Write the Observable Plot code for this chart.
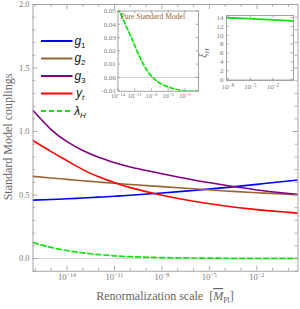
<!DOCTYPE html>
<html><head><meta charset="utf-8">
<script src="https://cdn.jsdelivr.net/npm/d3@7"></script>
<script src="https://cdn.jsdelivr.net/npm/@observablehq/plot@0.6"></script>
<style>
body{margin:0;background:#fff;}
#wrap{position:relative;width:300px;height:309px;overflow:hidden;}
#wrap svg{position:absolute;overflow:visible;}
</style></head><body><div id="wrap"></div>
<script>
// ---------- data ----------
const mainScale = [7.1e-17, 1e-15, 1e-14, 1e-13, 1e-12, 1e-11, 1e-10, 1e-8, 1e-6, 1e-4, 1e-2, 1, 4];
const g1   = [0.460,0.465,0.470,0.476,0.483,0.490,0.498,0.516,0.536,0.558,0.584,0.610,0.618];
const g2   = [0.647,0.634,0.623,0.612,0.602,0.592,0.583,0.566,0.549,0.532,0.518,0.506,0.502];
const g3   = [1.165,1.015,0.920,0.850,0.797,0.755,0.720,0.667,0.618,0.577,0.540,0.512,0.505];
const yt   = [0.928,0.842,0.770,0.700,0.643,0.597,0.558,0.498,0.451,0.414,0.385,0.363,0.355];
const lamH = [0.125,0.087,0.063,0.044,0.031,0.021,0.014,0.007,0.004,0.002,0.001,0.0005,0.0];

const smScale  = [1e-14, 2.8e-14, 4.5e-13, 6.9e-12, 5.4e-11, 4.3e-10, 6.8e-9, 5.4e-8, 8.7e-7, 2.7e-5, 1.7e-3, 0.105, 2.8];
const smLambda = [0.052, 0.048, 0.0368, 0.0256, 0.0168, 0.0092, 0.0017, -0.002, -0.0053, -0.0078, -0.0097, -0.0103, -0.0102];

const xiScale = [6.3e-9, 1e-6, 1e-4, 1e-2, 1, 5.6];
const xiH     = [14.0, 13.85, 13.7, 13.52, 13.33, 13.25];

const seriesNames = ["g1","g2","g3","yt","lamH"];
const colors = {g1:"#0000ff", g2:"#996633", g3:"#800080", yt:"#ff0000", lamH:"#11e011"};
const mainYTicks = [0, 0.5, 1.0, 1.5, 2.0];
const mainXTicks = [1e-14, 1e-11, 1e-8, 1e-5, 1e-2];
const insetYTicks = [-0.01, 0, 0.01, 0.02, 0.03, 0.04, 0.05];
const xiYTicks = [0, 2, 4, 6, 8, 10, 12, 14];
const xiXTicks = [1e-8, 1e-5, 1e-2];

// ---------- helpers ----------
const wrap = document.getElementById("wrap");
const FRAME = "#9a9a9a", TICKTXT = "#7a7a7a", SERIF = "'Liberation Serif','DejaVu Serif',serif";
const fmtPow = d => "10^−" + Math.abs(Math.round(Math.log10(d)));
const decades = (a, b) => d3.range(a, b + 1).map(e => Math.pow(10, e));
function frameTicks(xMaj, xMin, yMaj, yMin, fw, fh, L, l) {
  const o = {stroke: FRAME, strokeWidth: 0.8};
  return [
    Plot.tickX(xMaj, {...o, x: d => d, insetTop: fh - L}),
    Plot.tickX(xMaj, {...o, x: d => d, insetBottom: fh - L}),
    Plot.tickX(xMin, {...o, x: d => d, insetTop: fh - l}),
    Plot.tickX(xMin, {...o, x: d => d, insetBottom: fh - l}),
    Plot.tickY(yMaj, {...o, y: d => d, insetRight: fw - L}),
    Plot.tickY(yMaj, {...o, y: d => d, insetLeft: fw - L}),
    Plot.tickY(yMin, {...o, y: d => d, insetRight: fw - l}),
    Plot.tickY(yMin, {...o, y: d => d, insetLeft: fw - l})
  ];
}
function supify(svg) {
  d3.select(svg).selectAll("text").each(function () {
    const m = /^10\^(.+)$/.exec(this.textContent);
    if (!m) return;
    const s = d3.select(this); s.text(null);
    s.append("tspan").text("10");
    s.append("tspan").attr("dy", "-0.45em").attr("font-size", "0.72em").text(m[1]);
  });
}
function place(svg, left, top) { svg.style.left = left + "px"; svg.style.top = top + "px"; wrap.appendChild(svg); }
const rows = (xs, ys) => xs.map((s, i) => ({s, v: ys[i]}));

// ---------- main chart ----------
const mL = 32.5, mR = 2.5, mT = 4, mB = 38.3;
const fw = 300 - mL - mR, fh = 309 - mT - mB;
const series = {g1, g2, g3, yt, lamH};
const main = Plot.plot({
  width: 300, height: 309,
  marginLeft: mL, marginRight: mR, marginTop: mT, marginBottom: mB,
  x: {type: "log", domain: [7.1e-17, 4]},
  y: {domain: [-0.1, 2.0]},
  style: {background: "transparent", fontFamily: SERIF},
  marks: [
    Plot.ruleY([0], {stroke: "#d9d9d9", strokeWidth: 1}),
    ...seriesNames.map(k => Plot.line(rows(mainScale, series[k]), {
      x: "s", y: "v", stroke: colors[k], strokeWidth: k === "lamH" ? 1.7 : 1.6,
      strokeDasharray: k === "lamH" ? "5,3" : null, curve: "natural", clip: true
    })),
    Plot.frame({stroke: FRAME, strokeWidth: 0.9}),
    ...frameTicks(mainXTicks, decades(-16, 0).filter(d => !mainXTicks.some(t => Math.abs(Math.log10(t) - Math.log10(d)) < 1e-6)),
                  mainYTicks, d3.range(-1, 21).map(i => i / 10).filter(v => Math.abs(v * 2 - Math.round(v * 2)) > 1e-6), fw, fh, 5, 2.8),
    Plot.axisX({ticks: mainXTicks, tickSize: 0, tickPadding: 2.5, tickFormat: fmtPow, fontSize: 8.5, fill: TICKTXT, label: null}),
    Plot.axisY({ticks: mainYTicks, tickSize: 0, tickPadding: 3.5, tickFormat: d => d.toFixed(1), fontSize: 8.5, fill: TICKTXT, label: null})
  ]
});
supify(main);
const ms = d3.select(main);
ms.append("text").attr("transform", "translate(12,137) rotate(-90)").attr("text-anchor", "middle")
  .attr("font-family", SERIF).attr("font-size", 12).attr("fill", "#666").text("Standard Model couplings");
const xl = ms.append("text").attr("x", 165).attr("y", 300).attr("text-anchor", "middle")
  .attr("font-family", SERIF).attr("font-size", 12).attr("fill", "#666");
xl.append("tspan").text("Renormalization scale  [");
xl.append("tspan").attr("font-style", "italic").attr("text-decoration", "overline").text("M");
xl.append("tspan").attr("font-size", 8).attr("dy", 2.5).text("Pl");
xl.append("tspan").attr("dy", -2.5).text("]");

// legend
const legendItems = [
  {k: "g1", base: "g", sub: "1", subItalic: false},
  {k: "g2", base: "g", sub: "2", subItalic: false},
  {k: "g3", base: "g", sub: "3", subItalic: false},
  {k: "yt", base: "y", sub: "t", subItalic: true},
  {k: "lamH", base: "λ", sub: "H", subItalic: true}
];
const lg = ms.append("g");
legendItems.forEach((it, i) => {
  const y = 41 + i * 17.5;
  lg.append("line").attr("x1", 41).attr("x2", 72.5).attr("y1", y).attr("y2", y)
    .attr("stroke", colors[it.k]).attr("stroke-width", 2)
    .attr("stroke-dasharray", it.k === "lamH" ? "5,3" : null);
  const t = lg.append("text").attr("x", 80).attr("y", y + 3.5)
    .attr("font-family", "'Liberation Sans',Arial,sans-serif").attr("font-size", 12).attr("fill", "#111");
  t.append("tspan").attr("font-style", "italic").text(it.base);
  t.append("tspan").attr("font-size", 8).attr("dy", 3).attr("font-style", it.subItalic ? "italic" : "normal").text(it.sub);
});
place(main, 0, 0);

// ---------- inset 1: pure SM ----------
const i1L = 95, i1T = 5;
const i1 = Plot.plot({
  width: 106, height: 98,
  marginLeft: 22.5, marginRight: 3, marginTop: 5.5, marginBottom: 12.2,
  x: {type: "log", domain: [1e-14, 2.8]},
  y: {domain: [-0.0105, 0.05]},
  style: {background: "transparent", fontFamily: SERIF},
  marks: [
    Plot.frame({fill: "white", stroke: FRAME, strokeWidth: 0.9}),
    Plot.ruleY([0], {stroke: "#cfcfcf", strokeWidth: 1}),
    Plot.line(rows(smScale, smLambda), {x: "s", y: "v", stroke: colors.lamH, strokeWidth: 1.7,
      strokeDasharray: "4,2.5", curve: "monotone-x", clip: true}),
    ...frameTicks(mainXTicks, [], insetYTicks, [], 106 - 25.5, 98 - 17.7, 2.5, 1.5),
    Plot.axisX({ticks: mainXTicks, tickSize: 0, tickPadding: 2.5, tickFormat: fmtPow, fontSize: 6.6, fill: TICKTXT, label: null}),
    Plot.axisY({ticks: insetYTicks, tickSize: 0, tickPadding: 2, tickFormat: d => (d < 0 ? "-" : "") + Math.abs(d).toFixed(2), fontSize: 7, fill: TICKTXT, label: null}),
    Plot.text(["Pure Standard Model"], {frameAnchor: "top-left", dx: 2.5, dy: 3, fill: colors.g2, fontSize: 7.6, textAnchor: "start"})
  ]
});
supify(i1);
place(i1, i1L, i1T);

// ---------- inset 2: xi_H ----------
const i2L = 196, i2T = 10;
const i2 = Plot.plot({
  width: 100, height: 95,
  marginLeft: 30, marginRight: 3, marginTop: 5, marginBottom: 25,
  x: {type: "log", domain: [6.3e-9, 5.6]},
  y: {domain: [-0.25, 14.5]},
  style: {background: "transparent", fontFamily: SERIF},
  marks: [
    Plot.frame({fill: "white", stroke: FRAME, strokeWidth: 0.9}),
    Plot.ruleY([0], {stroke: "#cfcfcf", strokeWidth: 1}),
    Plot.line(rows(xiScale, xiH), {x: "s", y: "v", stroke: colors.lamH, strokeWidth: 1.8, curve: "monotone-x", clip: true}),
    ...frameTicks(xiXTicks, [], xiYTicks, [], 100 - 33, 95 - 30, 2.5, 1.5),
    Plot.axisX({ticks: xiXTicks, tickSize: 0, tickPadding: 3.5, tickFormat: fmtPow, fontSize: 7, fill: TICKTXT, label: null}),
    Plot.axisY({ticks: xiYTicks, tickSize: 0, tickPadding: 3, fontSize: 7, fill: TICKTXT, label: null})
  ]
});
supify(i2);
const xt = d3.select(i2).append("text").attr("transform", "translate(10,43) rotate(-90)").attr("text-anchor", "middle")
  .attr("font-family", SERIF).attr("font-size", 10).attr("fill", "#666");
xt.append("tspan").attr("font-style", "italic").text("ξ");
xt.append("tspan").attr("font-size", 7).attr("dy", 2.5).attr("font-style", "italic").text("H");
place(i2, i2L, i2T);
</script></body></html>
